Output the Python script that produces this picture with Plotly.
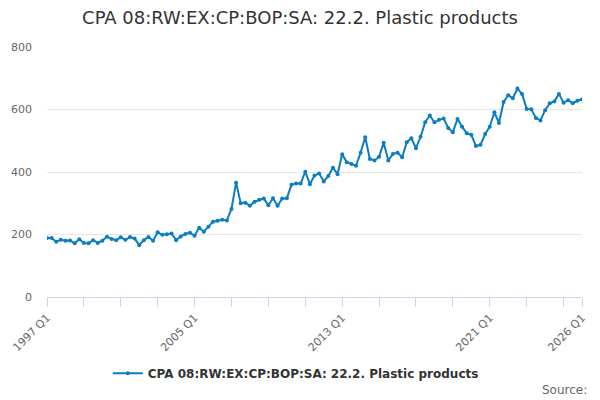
import plotly.graph_objects as go

# quarterly series, 1997 Q1 .. 2026 Q1
years = list(range(1997, 2027))
quarters = [str(y) + " Q" + str(q) for y in years for q in range(1, 5)][:117]

values = [
    189, 189, 177, 183, 180, 181, 172, 185, 173, 172, 182, 173, 180, 193, 186, 182,
    191, 183, 192, 187, 166, 182, 192, 180, 207, 199, 201, 203, 182, 194, 202, 206,
    196, 222, 209, 225, 241, 244, 247, 245, 282, 366, 300, 302, 292, 305, 311, 315,
    294, 316, 292, 315, 316, 359, 363, 363, 401, 361, 389, 395, 370, 387, 414, 393,
    457, 431, 426, 420, 462, 511, 442, 437, 449, 494, 437, 458, 462, 447, 495, 508,
    476, 513, 559, 581, 559, 567, 571, 541, 527, 570,
    545, 524, 519, 483, 487, 522, 545, 591, 557, 624, 646, 636, 667, 650, 602, 601,
    573, 565, 598, 620, 626, 650, 622, 630, 620, 628, 633,
]

series_name = "CPA 08:RW:EX:CP:BOP:SA: 22.2. Plastic products"
labelled = ["1997 Q1", "2005 Q1", "2013 Q1", "2021 Q1", "2026 Q1"]

# tick every 2 years plus the last quarter, only some labelled
tick_cats = quarters[::8] + [quarters[-1]]
tick_text = [c if c in labelled else "" for c in tick_cats]

font = "DejaVu Sans"
blue = "#0b7dc1"

fig = go.Figure()
fig.add_trace(go.Scatter(
    x=quarters, y=values, mode="lines+markers", name=series_name,
    line=dict(color=blue, width=2),
    marker=dict(color=blue, size=4),
))

fig.update_layout(
    width=600, height=400,
    paper_bgcolor="white", plot_bgcolor="white",
    margin=dict(l=47, r=18, t=47, b=103),
    font=dict(family=font, color="#666666", size=11),
    title=dict(text=series_name, x=0.5, xanchor="center", y=0.955, yanchor="middle",
               font=dict(family=font, size=18, color="#333333")),
    showlegend=True,
    legend=dict(orientation="h", x=0.465, xanchor="center", y=-0.305, yanchor="middle",
                itemwidth=30,
                font=dict(family=font, size=12, color="#333333", weight="bold")),
    annotations=[dict(text="Source:", xref="paper", yref="paper", x=1.013, y=-0.37,
                      xanchor="right", yanchor="middle", showarrow=False,
                      font=dict(family=font, size=12, color="#666666"))],
)

fig.update_xaxes(
    type="category", range=[0, len(quarters) - 1], automargin=False,
    tickmode="array", tickvals=tick_cats, ticktext=tick_text,
    tickangle=-45, ticks="outside", ticklen=9, tickcolor="#ccd6eb",
    showline=True, linecolor="#ccd6eb", linewidth=1,
    showgrid=False, zeroline=False,
    tickfont=dict(family=font, size=11, color="#666666"),
)
fig.update_yaxes(
    range=[0, 800], tickvals=[0, 200, 400, 600, 800], automargin=False,
    showgrid=True, gridcolor="#e6e6e6", zeroline=False, showline=False,
    tickfont=dict(family=font, size=11, color="#666666"),
    ticklabelstandoff=14,
)

# page body has a default 8px margin, drop it so the figure sits at 0,0
fig.write_html("out.html", config={"displayModeBar": False},
               post_script="document.body.style.margin='0';")
